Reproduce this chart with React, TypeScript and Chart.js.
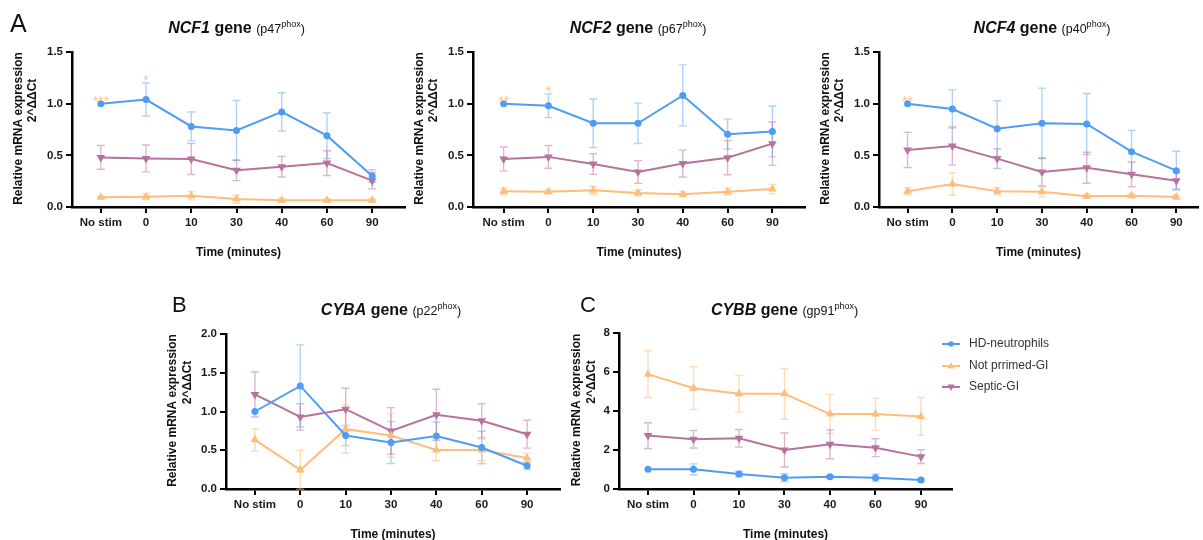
import React, { useEffect, useRef } from 'react';
import { Chart, registerables } from 'chart.js';

Chart.register(...registerables);

const FONT = 'Arial, "Liberation Sans", Helvetica, sans-serif';

// ---------------- data ----------------
const categories = ['No stim', '0', '10', '30', '40', '60', '90'];
const seriesNames = ['HD-neutrophils', 'Not prrimed-GI', 'Septic-GI'];
const xAxisTitle = 'Time (minutes)';
const yAxisTitle = ['Relative mRNA expression', '2^\u0394\u0394Ct'];

const tickValuesA = [0, 0.5, 1.0, 1.5];
const tickLabelsA = ['0.0', '0.5', '1.0', '1.5'];
const tickValuesB = [0, 0.5, 1.0, 1.5, 2.0];
const tickLabelsB = ['0.0', '0.5', '1.0', '1.5', '2.0'];
const tickValuesC = [0, 2, 4, 6, 8];
const tickLabelsC = ['0', '2', '4', '6', '8'];

// NCF1 (p47phox)
const ncf1Hd = [1.0, 1.04, 0.78, 0.74, 0.92, 0.69, 0.3];
const ncf1HdErr = [0, 0.16, 0.14, 0.29, 0.185, 0.22, 0.06];
const ncf1Np = [0.094, 0.1, 0.11, 0.077, 0.065, 0.065, 0.065];
const ncf1NpErr = [0.012, 0.03, 0.04, 0.04, 0.02, 0.015, 0.012];
const ncf1Sep = [0.48, 0.47, 0.465, 0.355, 0.39, 0.425, 0.255];
const ncf1SepErr = [0.115, 0.13, 0.15, 0.1, 0.1, 0.12, 0.08];
const ncf1Stars = ['***', '*', '', '', '', '', ''];

// NCF2 (p67phox)
const ncf2Hd = [1.0, 0.98, 0.81, 0.81, 1.08, 0.705, 0.73];
const ncf2HdErr = [0, 0.115, 0.235, 0.195, 0.295, 0.145, 0.245];
const ncf2Np = [0.152, 0.148, 0.161, 0.135, 0.123, 0.148, 0.174];
const ncf2NpErr = [0.03, 0.02, 0.04, 0.03, 0.025, 0.035, 0.045];
const ncf2Sep = [0.465, 0.485, 0.416, 0.339, 0.42, 0.477, 0.613];
const ncf2SepErr = [0.115, 0.11, 0.1, 0.11, 0.13, 0.165, 0.21];
const ncf2Stars = ['**', '*', '', '', '', '', ''];

// NCF4 (p40phox)
const ncf4Hd = [1.0, 0.948, 0.758, 0.81, 0.803, 0.535, 0.352];
const ncf4HdErr = [0, 0.185, 0.27, 0.34, 0.295, 0.205, 0.187];
const ncf4Np = [0.152, 0.223, 0.152, 0.148, 0.103, 0.11, 0.097];
const ncf4NpErr = [0.035, 0.11, 0.035, 0.05, 0.02, 0.02, 0.02];
const ncf4Sep = [0.552, 0.59, 0.468, 0.339, 0.38, 0.316, 0.255];
const ncf4SepErr = [0.17, 0.185, 0.095, 0.135, 0.15, 0.12, 0.08];
const ncf4Stars = ['**', '', '', '', '', '', ''];

// CYBA (p22phox)
const cybaHd = [1.0, 1.33, 0.69, 0.6, 0.685, 0.535, 0.3];
const cybaHdErr = [0, 0.53, 0.13, 0.27, 0.18, 0.21, 0.05];
const cybaNp = [0.634, 0.246, 0.772, 0.69, 0.504, 0.504, 0.4];
const cybaNpErr = [0.145, 0.25, 0.31, 0.28, 0.14, 0.14, 0.06];
const cybaSep = [1.22, 0.93, 1.03, 0.75, 0.957, 0.88, 0.707];
const cybaSepErr = [0.29, 0.17, 0.27, 0.3, 0.33, 0.22, 0.18];
const cybaStars = ['', '', '', '', '', '', ''];

// CYBB (gp91phox)
const cybbHd = [1.01, 1.01, 0.77, 0.58, 0.63, 0.58, 0.46];
const cybbHdErr = [0, 0.28, 0.14, 0.2, 0.05, 0.19, 0.08];
const cybbNp = [5.89, 5.17, 4.88, 4.88, 3.84, 3.84, 3.72];
const cybbNpErr = [1.2, 1.1, 0.94, 1.3, 1.0, 0.82, 0.97];
const cybbSep = [2.74, 2.55, 2.6, 2.0, 2.29, 2.12, 1.66];
const cybbSepErr = [0.66, 0.45, 0.45, 0.87, 0.74, 0.46, 0.35];
const cybbStars = ['', '', '', '', '', '', ''];

// ---------------- styles ----------------
const lineColors = ['#4f9cf5', '#ffbd7c', '#b7729d'];
const errColors = ['rgba(79,156,245,0.45)', 'rgba(255,189,124,0.55)', 'rgba(183,114,157,0.5)'];
const pointStyles = ['circle', 'triangle', 'triangle'];
const pointRadii = [3.5, 5, 5];
const pointRotations = [0, 0, 180];
const starColor = '#ffc08a';

type Panel = {
  key: string;
  letter: string;
  gene: string;
  protein: string;
  series: number[][];
  errors: number[][];
  stars: string[];
  tickValues: number[];
  tickLabels: string[];
  legend: boolean;
};

const panels: Panel[] = [
  { key: 'ncf1', letter: 'A', gene: 'NCF1', protein: 'p47', series: [ncf1Hd, ncf1Np, ncf1Sep], errors: [ncf1HdErr, ncf1NpErr, ncf1SepErr], stars: ncf1Stars, tickValues: tickValuesA, tickLabels: tickLabelsA, legend: false },
  { key: 'ncf2', letter: '', gene: 'NCF2', protein: 'p67', series: [ncf2Hd, ncf2Np, ncf2Sep], errors: [ncf2HdErr, ncf2NpErr, ncf2SepErr], stars: ncf2Stars, tickValues: tickValuesA, tickLabels: tickLabelsA, legend: false },
  { key: 'ncf4', letter: '', gene: 'NCF4', protein: 'p40', series: [ncf4Hd, ncf4Np, ncf4Sep], errors: [ncf4HdErr, ncf4NpErr, ncf4SepErr], stars: ncf4Stars, tickValues: tickValuesA, tickLabels: tickLabelsA, legend: false },
  { key: 'cyba', letter: 'B', gene: 'CYBA', protein: 'p22', series: [cybaHd, cybaNp, cybaSep], errors: [cybaHdErr, cybaNpErr, cybaSepErr], stars: cybaStars, tickValues: tickValuesB, tickLabels: tickLabelsB, legend: false },
  { key: 'cybb', letter: 'C', gene: 'CYBB', protein: 'gp91', series: [cybbHd, cybbNp, cybbSep], errors: [cybbHdErr, cybbNpErr, cybbSepErr], stars: cybbStars, tickValues: tickValuesC, tickLabels: tickLabelsC, legend: true },
];

// layout (page pixels): canvas rect, plot area, first/last category x, etc.
type Layout = {
  canvas: [number, number, number, number];
  area: [number, number, number, number];
  cats: [number, number];
  xTitleY: number;
  titleBase: number;
  letter: { x: number; y: number; size: number };
  yTitleDx: [number, number];
  legend?: { x0: number; x1: number; tx: number; ys: number[] };
};

const layouts: Record<string, Layout> = {
  ncf1: { canvas: [0, 0, 410, 270], area: [72, 52, 407, 207], cats: [101, 374], xTitleY: 253, titleBase: 33, letter: { x: 10, y: 32, size: 25 }, yTitleDx: [-53.5, -39.5] },
  ncf2: { canvas: [410, 0, 400, 270], area: [473, 52, 809, 207], cats: [504, 776], xTitleY: 253, titleBase: 33, letter: { x: 0, y: 0, size: 0 }, yTitleDx: [-53.5, -39.5] },
  ncf4: { canvas: [812, 0, 391, 270], area: [879, 52, 1203, 207], cats: [908, 1181], xTitleY: 253, titleBase: 33, letter: { x: 0, y: 0, size: 0 }, yTitleDx: [-53.5, -39.5] },
  cyba: { canvas: [150, 280, 415, 270], area: [226, 334, 561, 489], cats: [255, 528], xTitleY: 535, titleBase: 315, letter: { x: 172, y: 312, size: 22 }, yTitleDx: [-53.5, -38.5] },
  cybb: { canvas: [565, 280, 638, 270], area: [619, 333, 952, 489], cats: [648, 921], xTitleY: 535, titleBase: 315, letter: { x: 580, y: 312, size: 22 }, yTitleDx: [-42.5, -27], legend: { x0: 942, x1: 960, tx: 969, ys: [344, 366, 387] } },
};

function drawMarker(ctx: CanvasRenderingContext2D, si: number, x: number, y: number, scale: number) {
  ctx.save();
  ctx.fillStyle = lineColors[si];
  ctx.beginPath();
  if (si === 0) {
    ctx.arc(x, y, pointRadii[0] * scale, 0, Math.PI * 2);
  } else {
    const r = pointRadii[si] * scale;
    const dir = si === 1 ? 1 : -1;
    ctx.moveTo(x, y - dir * r);
    ctx.lineTo(x + r * 0.9, y + dir * r * 0.6);
    ctx.lineTo(x - r * 0.9, y + dir * r * 0.6);
    ctx.closePath();
  }
  ctx.fill();
  ctx.restore();
}

function makeChart(canvas: HTMLCanvasElement, p: Panel, lay: Layout) {
  const [cx0, cy0, cw, ch] = lay.canvas;
  const [L, T, R, B] = lay.area;
  const [c0, c6] = lay.cats;
  const n = categories.length - 1;
  const unit = (c6 - c0) / n;
  const xmin = -(c0 - L) / unit;
  const xmax = n + (R - c6) / unit;
  const yW = L - cx0;
  const xH = lay.xTitleY - B + 7;
  const padding = { left: 0, top: T - cy0, right: cx0 + cw - R, bottom: cy0 + ch - B - xH };

  const annot = {
    id: 'annot_' + p.key,
    beforeDatasetsDraw(chart: any) {
      const ctx: CanvasRenderingContext2D = chart.ctx;
      const xs = chart.scales.x;
      const ys = chart.scales.y;
      ctx.save();
      p.series.forEach((vals, si) => {
        ctx.strokeStyle = errColors[si];
        ctx.lineWidth = 1.4;
        vals.forEach((v, i) => {
          const e = p.errors[si][i];
          if (!e) return;
          const x = xs.getPixelForValue(i);
          const yt = ys.getPixelForValue(v + e);
          const yb = ys.getPixelForValue(v - e);
          ctx.beginPath();
          ctx.moveTo(x, yt);
          ctx.lineTo(x, yb);
          ctx.moveTo(x - 4, yt);
          ctx.lineTo(x + 4, yt);
          ctx.moveTo(x - 4, yb);
          ctx.lineTo(x + 4, yb);
          ctx.stroke();
        });
      });
      ctx.restore();
    },
    afterDraw(chart: any) {
      const ctx: CanvasRenderingContext2D = chart.ctx;
      const xs = chart.scales.x;
      const ys = chart.scales.y;
      const area = chart.chartArea;
      ctx.save();
      // panel letter
      if (p.letter) {
        ctx.fillStyle = '#111';
        ctx.font = `${lay.letter.size}px ${FONT}`;
        ctx.textAlign = 'left';
        ctx.textBaseline = 'alphabetic';
        ctx.fillText(p.letter, lay.letter.x - cx0, lay.letter.y - cy0);
      }
      // title
      const parts = [
        { t: p.gene, f: `italic bold 16px ${FONT}`, dy: 0 },
        { t: ' gene ', f: `bold 16px ${FONT}`, dy: 0 },
        { t: '(' + p.protein, f: `12.5px ${FONT}`, dy: 0 },
        { t: 'phox', f: `9px ${FONT}`, dy: -6 },
        { t: ')', f: `12.5px ${FONT}`, dy: 0 },
      ];
      let total = 0;
      parts.forEach((pt) => {
        ctx.font = pt.f;
        total += ctx.measureText(pt.t).width;
      });
      const tcx = (xs.getPixelForValue(0) + xs.getPixelForValue(n)) / 2;
      let tx = tcx - total / 2;
      ctx.fillStyle = '#111';
      ctx.textAlign = 'left';
      ctx.textBaseline = 'alphabetic';
      parts.forEach((pt) => {
        ctx.font = pt.f;
        ctx.fillText(pt.t, tx, lay.titleBase - cy0 + pt.dy);
        tx += ctx.measureText(pt.t).width;
      });
      // y axis title (two lines)
      const midY = (area.top + area.bottom) / 2;
      ctx.font = `bold 12px ${FONT}`;
      ctx.textAlign = 'center';
      ctx.textBaseline = 'middle';
      ctx.fillStyle = '#111';
      const ly = [midY - 1, midY - 29];
      yAxisTitle.forEach((line, li) => {
        ctx.save();
        ctx.translate(area.left + lay.yTitleDx[li], ly[li]);
        ctx.rotate(-Math.PI / 2);
        ctx.fillText(line, 0, 0);
        ctx.restore();
      });
      // significance stars above HD series
      ctx.font = `14px ${FONT}`;
      ctx.fillStyle = starColor;
      ctx.textAlign = 'center';
      ctx.textBaseline = 'alphabetic';
      p.stars.forEach((s, i) => {
        if (!s) return;
        const top = ys.getPixelForValue(p.series[0][i] + p.errors[0][i]);
        ctx.fillText(s, xs.getPixelForValue(i), top + 2);
      });
      // legend
      if (p.legend && lay.legend) {
        const lg = lay.legend;
        seriesNames.forEach((name, si) => {
          const y = lg.ys[si] - cy0;
          ctx.strokeStyle = lineColors[si];
          ctx.lineWidth = 2;
          ctx.beginPath();
          ctx.moveTo(lg.x0 - cx0, y);
          ctx.lineTo(lg.x1 - cx0, y);
          ctx.stroke();
          drawMarker(ctx, si, (lg.x0 + lg.x1) / 2 - cx0, y, 0.8);
          ctx.fillStyle = '#333';
          ctx.font = `12px ${FONT}`;
          ctx.textAlign = 'left';
          ctx.textBaseline = 'middle';
          ctx.fillText(name, lg.tx - cx0, y);
        });
      }
      ctx.restore();
    },
  };

  return new Chart(canvas, {
    type: 'line',
    data: {
      datasets: p.series.map((vals, si) => ({
        label: seriesNames[si],
        data: vals.map((v, i) => ({ x: i, y: v })),
        borderColor: lineColors[si],
        backgroundColor: lineColors[si],
        borderWidth: 2,
        pointStyle: pointStyles[si] as any,
        pointRadius: pointRadii[si],
        pointRotation: pointRotations[si],
        pointBorderWidth: 0,
        pointHoverRadius: pointRadii[si],
        fill: false,
        tension: 0,
        clip: false as any,
      })),
    },
    options: {
      animation: false,
      responsive: false,
      maintainAspectRatio: false,
      devicePixelRatio: 1,
      events: [],
      layout: { padding },
      plugins: { legend: { display: false }, tooltip: { enabled: false }, title: { display: false } },
      scales: {
        x: {
          type: 'linear',
          min: xmin,
          max: xmax,
          afterBuildTicks: (s: any) => {
            s.ticks = categories.map((_, i) => ({ value: i }));
          },
          afterFit: (s: any) => {
            s.height = xH;
          },
          ticks: {
            autoSkip: false,
            maxRotation: 0,
            padding: 3,
            color: '#1a1a1a',
            font: { family: FONT, size: 11.5, weight: 'bold' },
            callback: (v: any) => categories[Math.round(Number(v))],
          },
          grid: { drawOnChartArea: false, drawTicks: true, tickLength: 6, tickColor: '#000', tickWidth: 2, lineWidth: 2 },
          border: { display: true, color: '#000', width: 2.5 },
          title: { display: true, text: xAxisTitle, color: '#111', padding: 0, font: { family: FONT, size: 12, weight: 'bold', lineHeight: 14 / 12 } },
        },
        y: {
          type: 'linear',
          min: p.tickValues[0],
          max: p.tickValues[p.tickValues.length - 1],
          afterBuildTicks: (s: any) => {
            s.ticks = p.tickValues.map((v) => ({ value: v }));
          },
          afterFit: (s: any) => {
            s.width = yW;
          },
          ticks: {
            padding: 3,
            color: '#1a1a1a',
            font: { family: FONT, size: 11.5, weight: 'bold' },
            callback: (_v: any, i: number) => p.tickLabels[i],
          },
          grid: { drawOnChartArea: false, drawTicks: true, tickLength: 6, tickColor: '#000', tickWidth: 2, lineWidth: 2 },
          border: { display: true, color: '#000', width: 2.5 },
          title: { display: false },
        },
      },
    } as any,
    plugins: [annot],
  });
}

function PanelChart({ panel }: { panel: Panel }) {
  const ref = useRef<HTMLCanvasElement | null>(null);
  const lay = layouts[panel.key];
  useEffect(() => {
    if (!ref.current) return;
    const chart = makeChart(ref.current, panel, lay);
    return () => chart.destroy();
  }, [panel, lay]);
  const [x, y, w, h] = lay.canvas;
  return (
    <canvas
      ref={ref}
      width={w}
      height={h}
      style={{ position: 'absolute', left: x, top: y, width: w, height: h }}
    />
  );
}

export default function App() {
  return (
    <div style={{ position: 'fixed', left: 0, top: 0, width: 1203, height: 540, overflow: 'hidden', background: '#fff' }}>
      {panels.map((p) => (
        <PanelChart key={p.key} panel={p} />
      ))}
    </div>
  );
}
